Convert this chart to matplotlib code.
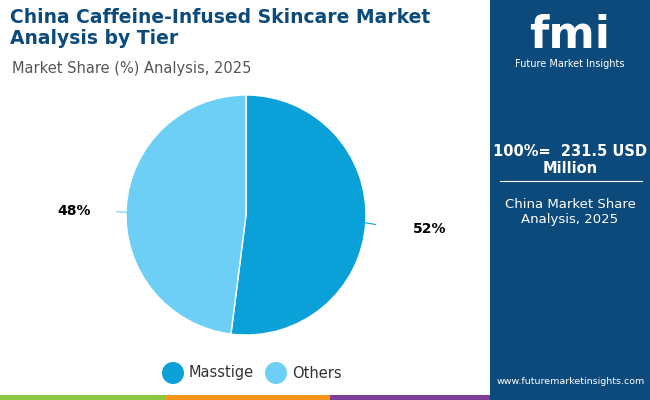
import matplotlib.pyplot as plt
from matplotlib.patches import Rectangle, Ellipse

labels = ["Masstige", "Others"]
shares = [52, 48]
colors = ["#0aa0d8", "#6dcff6"]

fig = plt.figure(figsize=(6.5, 4), dpi=100)
fig.patch.set_facecolor("white")

# right panel
fig.patches.append(Rectangle((490 / 650, 0), 160 / 650, 1, transform=fig.transFigure,
                             facecolor="#0c4a7c", zorder=0))
# bottom stripe
for x0, x1, c in [(0, 165, "#8dc63f"), (165, 330, "#f7941d"), (330, 490, "#7b3f98"), (490, 650, "#0c4a7c")]:
    fig.patches.append(Rectangle((x0 / 650, 0), (x1 - x0) / 650, 5 / 400,
                                 transform=fig.transFigure, facecolor=c, zorder=1))

fig.text(10 / 650, 1 - 28 / 400, "China Caffeine-Infused Skincare Market\nAnalysis by Tier",
         fontsize=13.5, fontweight="bold", color="#0c4a7c", va="center", linespacing=1.1)
fig.text(12 / 650, 1 - 68 / 400, "Market Share (%) Analysis, 2025", fontsize=10.5, color="#555555", va="center")

ax = fig.add_axes([(246 - 130) / 650, (185 - 130) / 400, 260 / 650, 260 / 400])
ax.pie(shares, colors=colors, startangle=90, counterclock=False,
       wedgeprops=dict(edgecolor="white", linewidth=1), radius=120 / 130)
ax.set_xlim(-1, 1)
ax.set_ylim(-1, 1)
ax.set_aspect("equal")
ax.plot([0.92, 1.22], [-0.06, -0.11], color="#0aa0d8", lw=0.8)
ax.plot([-0.92, -1.05], [0.02, 0.03], color="#6dcff6", lw=0.8)
ax.text(1.28, -0.11, f"{shares[0]}%", fontsize=10, fontweight="bold", va="center", ha="left")
ax.text(-1.45, 0.03, f"{shares[1]}%", fontsize=10, fontweight="bold", va="center", ha="left")

# legend
for cx, lab, c in [(173, labels[0], colors[0]), (276, labels[1], colors[1])]:
    fig.patches.append(Ellipse((cx / 650, 1 - 373 / 400), 22 / 650, 22 / 400,
                               transform=fig.transFigure, facecolor=c, zorder=3))
    fig.text((cx + 16) / 650, 1 - 373 / 400, lab, fontsize=10.5, va="center", color="#333333")

# right panel text
fig.text(570 / 650, 1 - 35 / 400, "fmi", fontsize=32, fontweight="bold", color="white",
         ha="center", va="center")
fig.text(570 / 650, 1 - 64 / 400, "Future Market Insights", fontsize=7, color="white", ha="center", va="center")
fig.text(570 / 650, 1 - 160 / 400, "100%=  231.5 USD\nMillion", fontsize=10.5, fontweight="bold",
         color="white", ha="center", va="center", linespacing=1.2)
fig.add_artist(plt.Line2D([500 / 650, 642 / 650], [1 - 181 / 400] * 2, color="white", lw=0.8))
fig.text(570 / 650, 1 - 212 / 400, "China Market Share\nAnalysis, 2025", fontsize=9.5,
         color="white", ha="center", va="center", linespacing=1.2)
fig.text(571 / 650, 1 - 382 / 400, "www.futuremarketinsights.com", fontsize=6.8, color="white",
         ha="center", va="center")

fig.savefig("out.png", dpi=100)
